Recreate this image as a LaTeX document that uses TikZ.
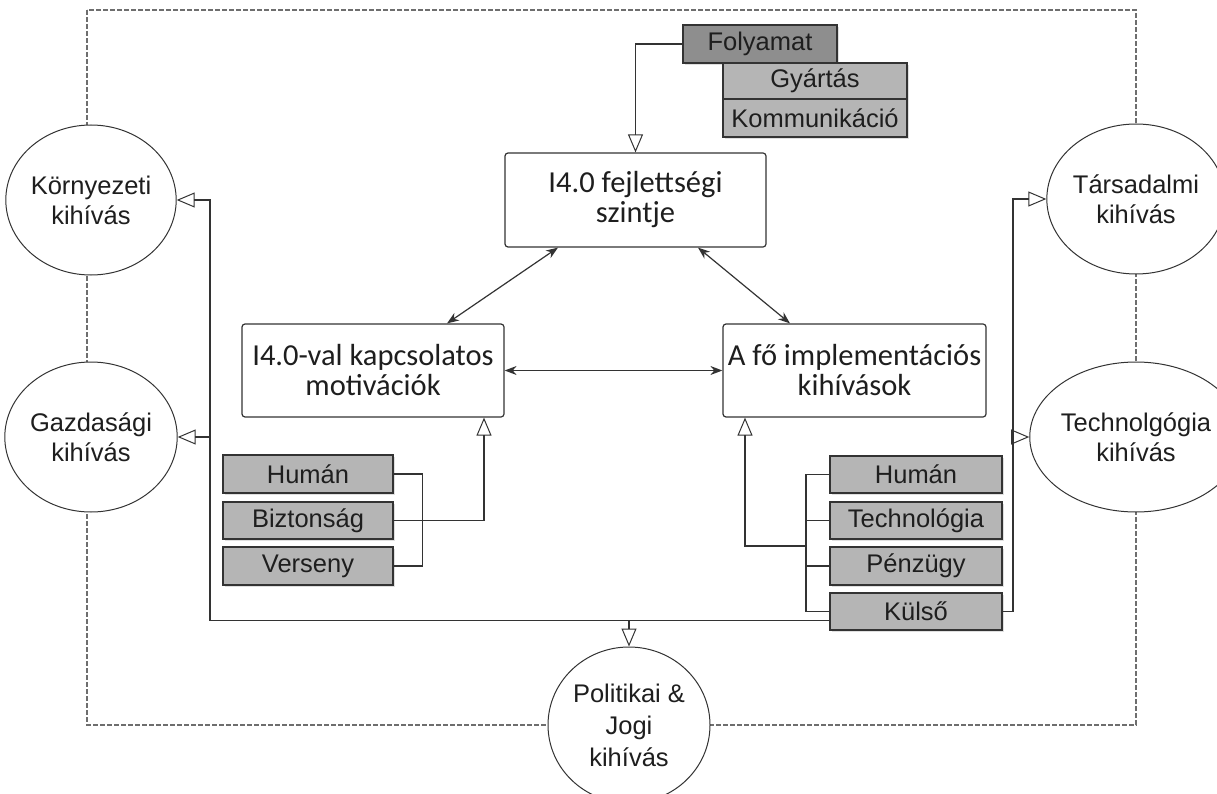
\documentclass[tikz,border=0pt]{standalone}
\usepackage{fontspec}
\setmainfont{Liberation Sans}
\newfontfamily\boxfont{Carlito}
\usetikzlibrary{arrows.meta,shapes.geometric,shadows,calc}
\definecolor{lnc}{HTML}{333333}
\definecolor{dk}{HTML}{8E8E8E}
\definecolor{lt}{HTML}{B5B5B5}
\definecolor{dsh}{HTML}{6E6E6E}
\definecolor{txt}{HTML}{1E1E1E}
\begin{document}
\begin{tikzpicture}[x=1pt,y=-1pt,
  mainbox/.style={draw=lnc,line width=1.2pt,rounded corners=3pt,fill=white,minimum width=262pt,minimum height=93pt,align=center,text=txt,font=\boxfont\fontsize{30.5}{30}\selectfont,inner sep=0pt},
  greybox/.style={draw=lnc,line width=1.2pt,fill=lt,minimum width=171pt,minimum height=37pt,inner sep=0pt,text=txt,font=\fontsize{25.5}{26}\selectfont,drop shadow={opacity=0.25,shadow xshift=2pt,shadow yshift=-2pt}},
  circ/.style={ellipse,draw=lnc,line width=1pt,fill=white,minimum width=160pt,minimum height=150pt,inner sep=0pt,align=center,text=txt,font=\fontsize{25.5}{30}\selectfont},
  conn/.style={draw=lnc,line width=1.2pt},
  openarr/.style={conn,-{Triangle[open,length=18pt,width=15pt,line width=1pt]}},
  dblarr/.style={conn,{Stealth[length=12pt,width=9pt]}-{Stealth[length=12pt,width=9pt]}},
  dashline/.style={draw=dsh,line width=1.4pt,dash pattern=on 5pt off 2pt}
]
\useasboundingbox (0,0) rectangle (1217,794);
\clip (0,0) rectangle (1217,794);
% dashed frame
\draw[dashline] (87,10) rectangle (1136,725);
% circles
\node[circ] (korny) at (91,200) {Környezeti\\kihívás};
\node[circ] (gazd) at (91,437) {Gazdasági\\kihívás};
\node[circ] (tars) at (1136,199) {Társadalmi\\kihívás};
\node[circ] (tech) at (1136,437) {Technolgógia\\kihívás};
\node[circ,minimum width=162pt,minimum height=156pt,font=\fontsize{25.5}{32}\selectfont] (pol) at (629,725) {Politikai \&\\Jogi\\kihívás};
% main boxes
\node[mainbox,minimum width=261pt,minimum height=94pt] (lvl) at (635.5,200) {I4.0 fejlettségi\\szintje};
\node[mainbox] (mot) at (373,370.5) {I4.0-val kapcsolatos\\motivációk};
\node[mainbox,minimum width=263pt] (imp) at (854.5,370.5) {A fő implementációs\\kihívások};
% top grey boxes
\node[greybox,fill=dk,minimum width=154pt,minimum height=38pt] (fol) at (760,44) {Folyamat};
\node[greybox,minimum width=184pt,minimum height=36pt] (gyar) at (815,81) {Gyártás};
\node[greybox,minimum width=184pt,minimum height=38pt] (komm) at (815,118) {Kommunikáció};
% left grey boxes
\node[greybox,minimum width=170pt,minimum height=38pt] (lh) at (308,474) {Humán};
\node[greybox,minimum width=170pt] (lb) at (308,520.5) {Biztonság};
\node[greybox,minimum width=170pt,minimum height=38pt] (lv) at (308,566) {Verseny};
% right grey boxes
\node[greybox,minimum width=172pt] (rh) at (916,474.5) {Humán};
\node[greybox,minimum width=172pt] (rt) at (916,520.5) {Technológia};
\node[greybox,minimum width=172pt,minimum height=38pt] (rp) at (916,566) {Pénzügy};
\node[greybox,minimum width=172pt] (rk) at (916,611.5) {Külső};
% connectors
\draw[openarr] (fol.west) -| (lvl.north);
\draw[dblarr] ([xshift=74pt]mot.north) -- ([xshift=-77.5pt]lvl.south);
\draw[dblarr] ([xshift=62.5pt]lvl.south) -- ([xshift=-64.5pt]imp.north);
\draw[dblarr] (mot.east) -- (imp.west);
\draw[conn] (lh.east) -- ++(29,0) |- (lv.east);
\draw[openarr] (lb.east) -| ([xshift=111pt]mot.south);
\coordinate (rbt) at (806,474.5);
\coordinate (rbb) at (806,611.5);
\coordinate (br) at (806,546);
\draw[conn] (rh.west) -- (rbt) -- (rbb) -- (rk.west);
\draw[conn] (rt.west) -- (rt.west -| rbt);
\draw[conn] (rp.west) -- (rp.west -| rbt);
\draw[openarr] (br) -| ([xshift=-109.5pt]imp.south);
\coordinate (rc) at (1013,611.5);
\coordinate (rj) at (1013,437);
\draw[openarr] (rk.east) -- (rc) |- (tars.west);
\draw[openarr] (rj) -- (tech.west);
\coordinate (bl) at (210,620.5);
\coordinate (lj) at (210,437);
\draw[openarr] ([yshift=-9pt]rk.west) -- (bl) |- (korny.east);
\draw[openarr] (lj) -- (gazd.east);
\coordinate (pj) at (pol.north |- bl);
\draw[openarr] (pj) -- (pol.north);
\end{tikzpicture}
\end{document}
